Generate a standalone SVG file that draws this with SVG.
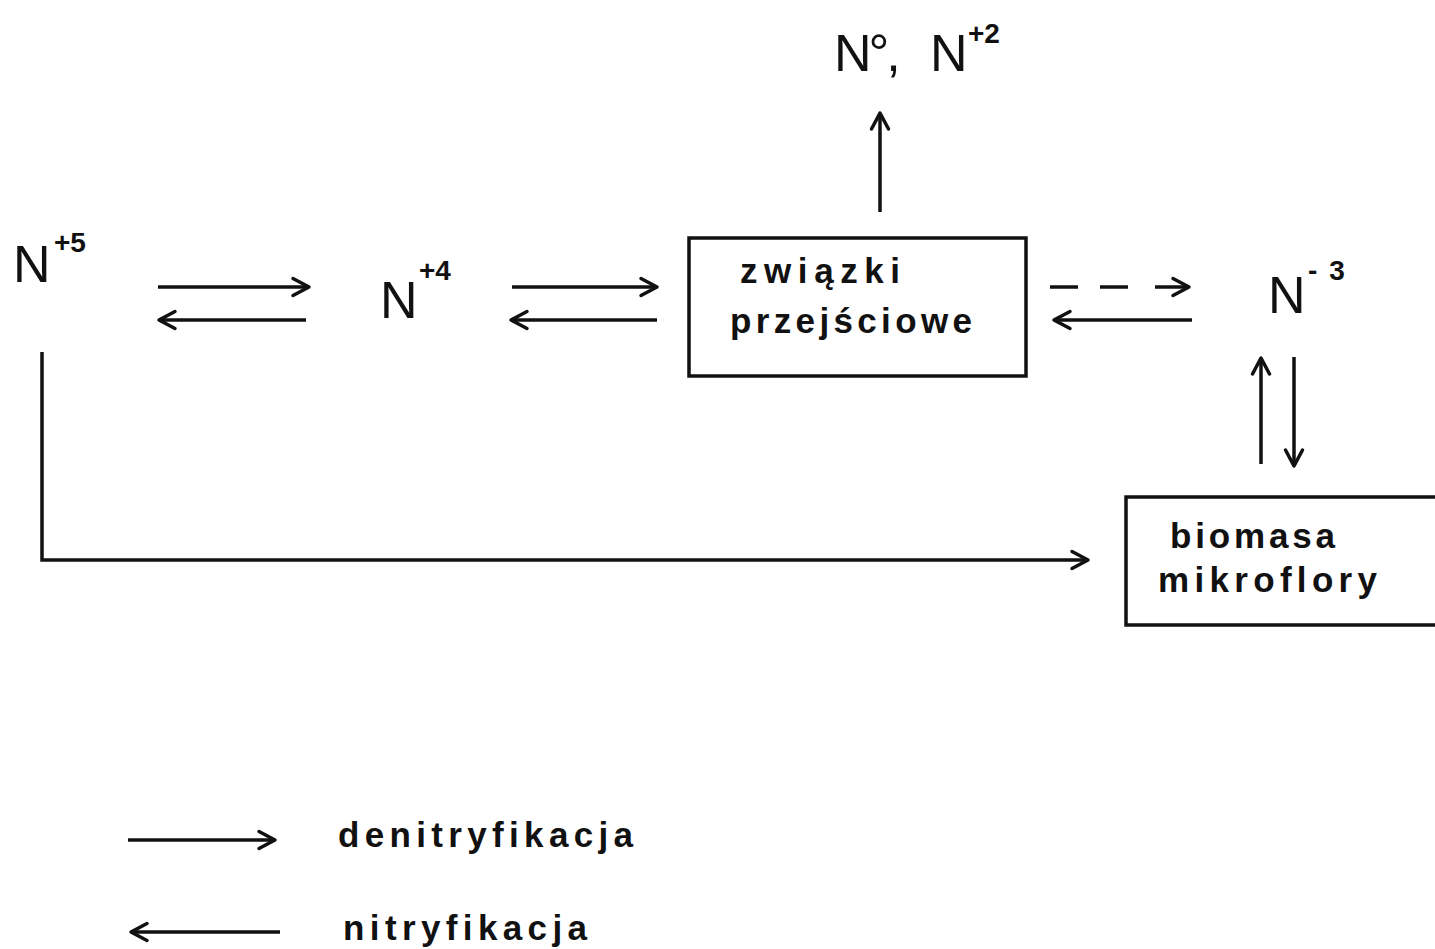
<svg xmlns="http://www.w3.org/2000/svg" width="1435" height="949" viewBox="0 0 1435 949">
<style>
text{font-family:"Liberation Sans","DejaVu Sans",sans-serif;fill:#111;}
.big{font-size:52px;}
.sup{font-size:28px;font-weight:bold;}
.lbl{font-size:35px;font-weight:bold;}
.ln{stroke:#111;stroke-width:3.5;fill:none;}
.box{stroke:#111;stroke-width:3.5;fill:none;}
</style>
<defs>
<marker id="ah" markerUnits="userSpaceOnUse" markerWidth="30" markerHeight="30" viewBox="-20 -15 30 30" refX="0" refY="0" orient="auto">
<path d="M-16,-8.5 L0,0 L-16,8.5" fill="none" stroke="#111" stroke-width="3.5" stroke-linecap="round" stroke-linejoin="round"/>
</marker>
</defs>
<rect width="1435" height="949" fill="#fff"/>
<g id="n5">
<text class="big" x="13" y="282">N</text>
<text class="sup" x="54" y="252">+5</text>
</g>
<g id="n4">
<text class="big" x="380" y="318">N</text>
<text class="sup" x="419" y="280">+4</text>
</g>
<g id="n0n2">
<text class="big" x="834" y="71" letter-spacing="-3">N°,</text>
<text class="big" x="930" y="71">N</text>
<text class="sup" x="968" y="43">+2</text>
</g>
<g id="zwiazki">
<rect class="box" x="689" y="238" width="337" height="138"/>
<text class="lbl" x="740" y="283" textLength="160" lengthAdjust="spacing">związki</text>
<text class="lbl" x="730" y="333" textLength="242" lengthAdjust="spacing">przejściowe</text>
</g>
<g id="n3">
<text class="big" x="1268" y="313">N</text>
<text class="sup" x="1308" y="280" font-size="30">-<tspan dx="12">3</tspan></text>
</g>
<g id="biomasa">
<path class="box" d="M1440,497 L1126,497 L1126,625 L1440,625"/>
<text class="lbl" x="1170" y="548" textLength="165" lengthAdjust="spacing">biomasa</text>
<text class="lbl" x="1158" y="592" textLength="219" lengthAdjust="spacing">mikroflory</text>
</g>
<g id="legend">
<text class="lbl" x="338" y="847" textLength="295" lengthAdjust="spacing">denitryfikacja</text>
<text class="lbl" x="343" y="940" textLength="244" lengthAdjust="spacing">nitryfikacja</text>
</g>
<g id="connectors">
<line class="ln" x1="158" y1="287" x2="309" y2="287" marker-end="url(#ah)"/>
<line class="ln" x1="306" y1="320" x2="159" y2="320" marker-end="url(#ah)"/>
<line class="ln" x1="512" y1="287" x2="657" y2="287" marker-end="url(#ah)"/>
<line class="ln" x1="657" y1="320" x2="511" y2="320" marker-end="url(#ah)"/>
<line class="ln" x1="880" y1="212" x2="880" y2="113" marker-end="url(#ah)"/>
<line class="ln" x1="1050" y1="287" x2="1078" y2="287"/>
<line class="ln" x1="1100" y1="287" x2="1128" y2="287"/>
<line class="ln" x1="1155" y1="287" x2="1189" y2="287" marker-end="url(#ah)"/>
<line class="ln" x1="1192" y1="320" x2="1054" y2="320" marker-end="url(#ah)"/>
<line class="ln" x1="1261" y1="464" x2="1261" y2="358" marker-end="url(#ah)"/>
<line class="ln" x1="1294" y1="357" x2="1294" y2="466" marker-end="url(#ah)"/>
<path class="ln" d="M42,352 L42,560 L1088,560" marker-end="url(#ah)"/>
<line class="ln" x1="128" y1="840" x2="275" y2="840" marker-end="url(#ah)"/>
<line class="ln" x1="280" y1="932" x2="131" y2="932" marker-end="url(#ah)"/>
</g>
</svg>
